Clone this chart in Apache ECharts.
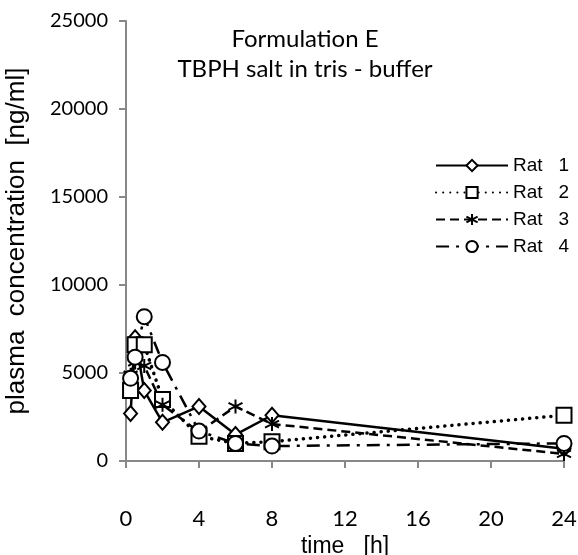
<!DOCTYPE html>
<html>
<head>
<meta charset="utf-8">
<script src="https://cdn.jsdelivr.net/npm/echarts@6/dist/echarts.min.js"></script>
<style>
  html, body { margin: 0; padding: 0; background: #fff; }
  #main { width: 578px; height: 555px; }
</style>
</head>
<body>
<div id="main"></div>
<script>
// sampling times [h]
var times = [0.25, 0.5, 1, 2, 4, 6, 8, 24];
// plasma concentration [ng/ml] per rat
var rat1 = [2700, 7000, 4000, 2200, 3100, 1500, 2600, 700];
var rat2 = [4000, 6600, 6600, 3500, 1400, 1000, 1100, 2600];
var rat3 = [4900, 5600, 5400, 3200, 1650, 3100, 2100, 400];
var rat4 = [4700, 5900, 8200, 5600, 1700, 1000, 850, 1000];
var ratNames = ['Rat   1', 'Rat   2', 'Rat   3', 'Rat   4'];
var xTicks = [0, 4, 8, 12, 16, 20, 24];
var yTicks = [0, 5000, 10000, 15000, 20000, 25000];

var asterisk = 'path://M0,-10L0,10M-8.66,-5L8.66,5M-8.66,5L8.66,-5';

function pairs(vals){
  var out = [];
  for(var i = 0; i < times.length; i++){
    out.push([times[i], vals[i]]);
  }
  return out;
}

function makeSeries(name, vals, symbol, size, dash, width, cap){
  return {
    name: name,
    type: 'line',
    data: pairs(vals),
    symbol: symbol,
    symbolSize: size,
    showAllSymbol: true,
    lineStyle: { color: '#000', width: width, type: dash, cap: cap || 'butt' },
    itemStyle: { color: '#fff', borderColor: '#000', borderWidth: 2 },
    emphasis: { disabled: true },
    animation: false
  };
}

var myChart = echarts.init(document.getElementById('main'));

var option = {
  backgroundColor: '#fff',
  title: {
    text: 'Formulation E\nTBPH salt in tris - buffer',
    left: 300,
    top: 19,
    textAlign: 'center',
    textStyle: { fontFamily: 'Lato', fontWeight: 'normal', fontSize: 24, color: '#000', lineHeight: 30 }
  },
  legend: {
    orient: 'vertical',
    right: 4,
    top: 151,
    itemWidth: 72,
    itemHeight: 14,
    itemGap: 8,
    textStyle: { fontFamily: 'Liberation Sans', fontSize: 19, color: '#000' },
    data: ratNames
  },
  grid: { left: 126, right: 14, top: 21, bottom: 94, outerBoundsMode: 'none' },
  xAxis: {
    type: 'value',
    min: 0,
    max: 24,
    interval: 4,
    name: 'time   [h]',
    nameLocation: 'middle',
    nameGap: 67,
    nameTextStyle: { fontFamily: 'Liberation Sans', fontSize: 23, color: '#000' },
    axisLine: { lineStyle: { color: '#888', width: 2 } },
    axisTick: { show: true, length: 7, lineStyle: { color: '#888', width: 2 } },
    axisLabel: {
      margin: 47,
      fontFamily: 'Lato',
      fontSize: 22,
      color: '#000',
      formatter: function(v){ return xTicks.indexOf(v) >= 0 ? String(v) : ''; }
    },
    splitLine: { show: false }
  },
  yAxis: {
    type: 'value',
    min: 0,
    max: 25000,
    interval: 5000,
    name: 'plasma  concentration  [ng/ml]',
    nameLocation: 'middle',
    nameGap: 96,
    nameTextStyle: { fontFamily: 'Liberation Sans', fontSize: 26, color: '#000' },
    axisLine: { show: true, lineStyle: { color: '#888', width: 2 } },
    axisTick: { show: true, length: 7, lineStyle: { color: '#888', width: 2 } },
    axisLabel: {
      margin: 18,
      fontFamily: 'Lato',
      fontSize: 20,
      color: '#000',
      formatter: function(v){ return yTicks.indexOf(v) >= 0 ? String(v) : ''; }
    },
    splitLine: { show: false }
  },
  series: [
    makeSeries(ratNames[0], rat1, 'diamond', [13, 15], 'solid', 2.5),
    makeSeries(ratNames[1], rat2, 'rect', 15, [0.1, 7], 3.5, 'round'),
    makeSeries(ratNames[2], rat3, asterisk, 14, [9, 5], 2.5),
    makeSeries(ratNames[3], rat4, 'circle', 15, [13, 7, 3, 7], 2.5)
  ]
};

myChart.setOption(option);
</script>
</body>
</html>
